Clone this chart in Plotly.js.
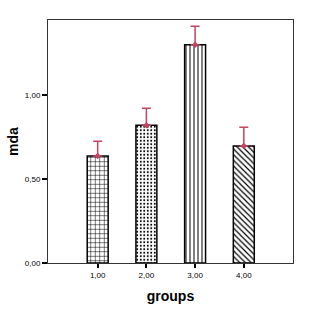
<!DOCTYPE html>
<html>
<head>
<meta charset="utf-8">
<script src="https://cdn.plot.ly/plotly-3.0.1.min.js"></script>
<style>
html,body{margin:0;padding:0;background:#fff;}
#chart{width:319px;height:316px;}
</style>
</head>
<body>
<div id="chart"></div>
<script>
var groups = [1, 2, 3, 4];
var tickLabels = ["1,00", "2,00", "3,00", "4,00"];
var means = [0.637, 0.82, 1.298, 0.696];
var upper = [0.724, 0.921, 1.409, 0.808];
var patterns = ["+", ".", "|", "\\"];

var errPlus = means.map(function(m, i){ return upper[i] - m; });
var errMinus = means.map(function(){ return 0; });

var red = "#c2445e";

var bars = {
  type: "bar",
  x: groups,
  y: means,
  width: 0.43,
  marker: {
    color: "white",
    line: {color: "black", width: 1.5},
    pattern: {
      shape: patterns,
      fgcolor: "black",
      bgcolor: "white",
      size: [4.5, 3.5, 4, 4],
      solidity: [0.22, 0.25, 0.25, 0.3]
    }
  },
  hoverinfo: "skip"
};

var errs = {
  type: "scatter",
  mode: "markers",
  x: groups,
  y: means,
  marker: {symbol: "diamond", size: 5, color: red},
  error_y: {
    type: "data",
    symmetric: false,
    array: errPlus,
    arrayminus: errMinus,
    color: red,
    thickness: 1.5,
    width: 4.5
  },
  hoverinfo: "skip"
};

var layout = {
  width: 319,
  height: 316,
  margin: {l: 48, r: 26, t: 20, b: 53},
  paper_bgcolor: "white",
  plot_bgcolor: "white",
  showlegend: false,
  separators: ", ",
  font: {family: "Liberation Sans, Arial, sans-serif", color: "black"},
  xaxis: {
    range: [-0.02, 5.01],
    tickvals: groups,
    ticktext: tickLabels,
    ticks: "outside",
    ticklen: 4,
    tickwidth: 2,
    tickcolor: "black",
    tickfont: {size: 8},
    showgrid: false,
    zeroline: false,
    showline: true,
    linecolor: "#333",
    linewidth: 1,
    mirror: true,
    title: {text: "groups", font: {size: 14, weight: "bold"}, standoff: 12}
  },
  yaxis: {
    range: [0, 1.446],
    tickvals: [0, 0.5, 1.0],
    tickformat: ".2f",
    ticks: "outside",
    ticklen: 5,
    tickwidth: 2,
    tickcolor: "black",
    tickfont: {size: 8},
    showgrid: false,
    zeroline: false,
    showline: true,
    linecolor: "#333",
    linewidth: 1,
    mirror: true,
    title: {text: "mda", font: {size: 14, weight: "bold"}, standoff: 2}
  }
};

Plotly.newPlot("chart", [bars, errs], layout, {displayModeBar: false, staticPlot: true});
</script>
</body>
</html>
